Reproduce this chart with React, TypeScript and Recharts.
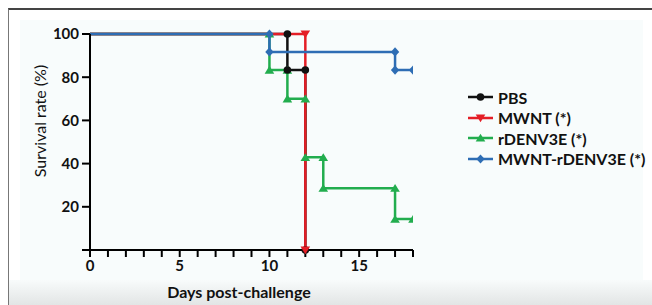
import React from "react";
import {
  LineChart,
  Line,
  XAxis,
  YAxis,
} from "recharts";

// survival curves, one pair of arrays per group (step corners)
const pbsDays = [0, 11, 11, 12, 12];
const pbsSurvival = [100, 100, 83.3, 83.3, 0];

const mwntDays = [0, 12, 12];
const mwntSurvival = [100, 100, 0];

const rdenvDays = [0, 10, 10, 11, 11, 12, 12, 13, 13, 17, 17, 18];
const rdenvSurvival = [100, 100, 83.3, 83.3, 70, 70, 42.9, 42.9, 28.6, 28.6, 14.3, 14.3];

const comboDays = [0, 10, 10, 17, 17, 18];
const comboSurvival = [100, 100, 91.7, 91.7, 83.3, 83.3];

const xTicks = [0, 1, 2, 3, 4, 5, 6, 7, 8, 9, 10, 11, 12, 13, 14, 15, 16, 17, 18];
const yTicks = [0, 20, 40, 60, 80, 100];

const FONT = "Lato, 'Open Sans', sans-serif";

const zip = (days: number[], vals: number[]) =>
  days.map((d, i) => ({ day: d, value: vals[i] }));

type Shape = "circle" | "down" | "up" | "diamond";

function Marker({ cx, cy, shape, color }: { cx: number; cy: number; shape: Shape; color: string }) {
  if (shape === "circle") return <circle cx={cx} cy={cy} r={3.8} fill={color} />;
  if (shape === "down")
    return <path d={`M${cx - 4.8},${cy - 3.6}L${cx + 4.8},${cy - 3.6}L${cx},${cy + 4.2}Z`} fill={color} />;
  if (shape === "up")
    return <path d={`M${cx - 4.8},${cy + 3.6}L${cx + 4.8},${cy + 3.6}L${cx},${cy - 4.2}Z`} fill={color} />;
  return <path d={`M${cx},${cy - 4.6}L${cx + 4.2},${cy}L${cx},${cy + 4.6}L${cx - 4.2},${cy}Z`} fill={color} />;
}

// drawing order: green, black, red, blue on top
const series = [
  { name: "rDENV3E (*)", data: zip(rdenvDays, rdenvSurvival), color: "#22ad4e", shape: "up" as Shape },
  { name: "PBS", data: zip(pbsDays, pbsSurvival), color: "#111111", shape: "circle" as Shape },
  { name: "MWNT (*)", data: zip(mwntDays, mwntSurvival), color: "#e41e26", shape: "down" as Shape },
  { name: "MWNT-rDENV3E (*)", data: zip(comboDays, comboSurvival), color: "#2e6db4", shape: "diamond" as Shape },
];

const legendOrder = ["PBS", "MWNT (*)", "rDENV3E (*)", "MWNT-rDENV3E (*)"];

function makeDot(color: string, shape: Shape) {
  return (props: any) => {
    const { cx, cy, index } = props;
    if (index === 0) return <g key={`d${index}`} />;
    return (
      <g key={`d${index}`}>
        <Marker cx={cx} cy={cy} shape={shape} color={color} />
      </g>
    );
  };
}

function LegendBox() {
  return (
    <div style={{ fontFamily: FONT, position: "absolute", left: 467, top: 87 }}>
      {legendOrder.map((n) => {
        const s = series.find((x) => x.name === n)!;
        return (
          <div key={n} style={{ display: "flex", alignItems: "center", height: 20.5 }}>
            <svg width={28} height={14}>
              <line x1={1} y1={7} x2={26} y2={7} stroke={s.color} strokeWidth={2.5} />
              <Marker cx={13.5} cy={7} shape={s.shape} color={s.color} />
            </svg>
            <span style={{ marginLeft: 3, fontSize: 16, fontWeight: 700, color: "#111" }}>{n}</span>
          </div>
        );
      })}
    </div>
  );
}

const XTitle = () => (
  <text x={239} y={298} textAnchor="middle" fontFamily={FONT} fontSize={16} fontWeight={700} fill="#111">
    Days post-challenge
  </text>
);

const YTitle = () => (
  <text
    x={0}
    y={0}
    transform="translate(46,121) rotate(-90)"
    textAnchor="middle"
    fontFamily={FONT}
    fontSize={16}
    fill="#111"
  >
    Survival rate (%)
  </text>
);

export default function App() {
  return (
    <div style={{ position: "fixed", left: 0, top: 0, width: 652, height: 305, background: "#ffffff", overflow: "hidden" }}>
      <div
        style={{
          position: "absolute",
          left: 8,
          top: 8,
          right: 0,
          bottom: 0,
          borderLeft: "1px solid #777",
          borderTop: "2px solid #444",
        }}
      />
      <div style={{ position: "absolute", left: 20, top: 20, right: 9, bottom: 0, background: "#f8fcfc" }} />
      <div
        style={{
          position: "absolute",
          left: 9,
          right: 0,
          top: 280,
          bottom: 0,
          background: "linear-gradient(#f8fbfb, #e2e5e5)",
        }}
      />
      <div style={{ position: "absolute", left: 0, top: 0 }}>
        <LineChart width={652} height={305} margin={{ top: 34, right: 239, left: 30, bottom: 0 }}>
          <XAxis
            dataKey="day"
            type="number"
            domain={[0, 18]}
            ticks={xTicks}
            interval={0}
            allowDataOverflow
            height={55}
            tickSize={7}
            tickMargin={3}
            tickFormatter={(v: number) => (v % 5 === 0 ? String(v) : "")}
            axisLine={{ stroke: "#000", strokeWidth: 2 }}
            tickLine={{ stroke: "#000", strokeWidth: 2 }}
            tick={{ fill: "#111", fontSize: 15, fontWeight: 700, fontFamily: FONT }}
            label={<XTitle />}
          />
          <YAxis
            type="number"
            domain={[0, 100]}
            ticks={yTicks}
            interval={0}
            width={60}
            tickSize={8}
            tickMargin={3}
            tickFormatter={(v: number) => (v === 0 ? "" : String(v))}
            axisLine={{ stroke: "#000", strokeWidth: 2 }}
            tickLine={{ stroke: "#000", strokeWidth: 2 }}
            tick={{ fill: "#111", fontSize: 15, fontWeight: 700, fontFamily: FONT }}
            label={<YTitle />}
          />
          {series.map((s) => (
            <Line
              key={s.name}
              data={s.data}
              dataKey="value"
              name={s.name}
              type="linear"
              stroke={s.color}
              strokeWidth={2.5}
              dot={makeDot(s.color, s.shape)}
              activeDot={false}
              isAnimationActive={false}
            />
          ))}
        </LineChart>
      </div>
      <LegendBox />
    </div>
  );
}
